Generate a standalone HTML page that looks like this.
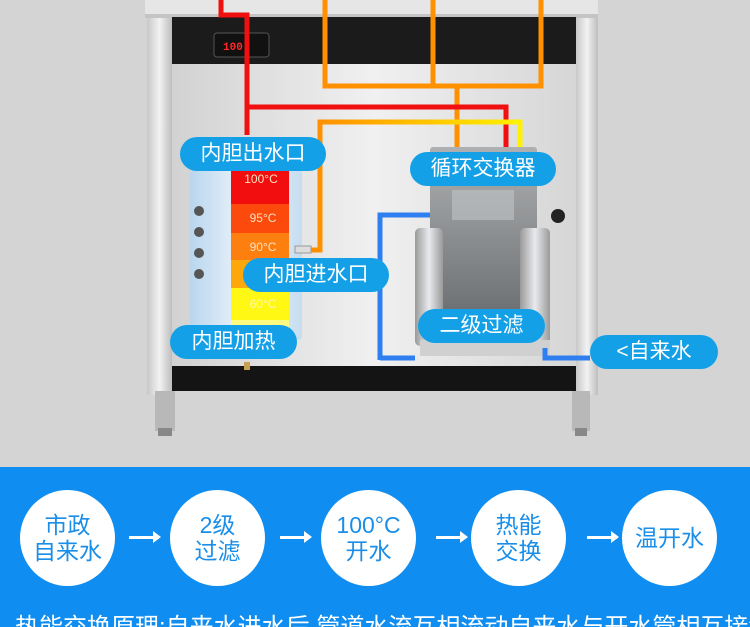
<!DOCTYPE html>
<html><head><meta charset="utf-8"><style>
html,body{margin:0;padding:0}
body{width:750px;height:627px;overflow:hidden;position:relative;background:#d4d4d4;font-family:"Liberation Sans","Noto Sans CJK SC",sans-serif}
svg{position:absolute;left:0;top:0}
.pill{position:absolute;background:#14a0e6;color:#fff;border-radius:18px;font-size:21px;text-align:center;line-height:34px;height:34px;white-space:nowrap}
.band{position:absolute;left:0;top:467px;width:750px;height:160px;background:#0f8df0;overflow:hidden}
.c{position:absolute;top:490px;width:95px;height:96px;border-radius:50%;background:#fff;color:#1a8ee8;font-size:23px;line-height:26px;display:flex;align-items:center;justify-content:center;text-align:center}
.ar{position:absolute;top:536px;width:30px;height:3px;background:#fff}
.ar:after{content:"";position:absolute;right:-2px;top:-5px;border-left:8px solid #fff;border-top:6px solid transparent;border-bottom:6px solid transparent}
.bt{position:absolute;left:15px;top:140px;color:#fff;font-size:24px;white-space:nowrap}
</style></head><body>
<svg width="750" height="467" viewBox="0 0 750 467">
<defs>
<linearGradient id="pan" x1="0" x2="1"><stop offset="0" stop-color="#d2d2d2"/><stop offset=".5" stop-color="#f0f0f0"/><stop offset="1" stop-color="#d6d6d6"/></linearGradient>
<linearGradient id="post" x1="0" x2="1"><stop offset="0" stop-color="#c8c8c8"/><stop offset=".5" stop-color="#f2f2f2"/><stop offset="1" stop-color="#bdbdbd"/></linearGradient>
<linearGradient id="tank" x1="0" x2="1"><stop offset="0" stop-color="#b9d6ee"/><stop offset=".5" stop-color="#eef5fb"/><stop offset="1" stop-color="#c6ddf0"/></linearGradient>
<linearGradient id="ex" x1="0" x2="0" y1="0" y2="1"><stop offset="0" stop-color="#aeb0b2"/><stop offset="1" stop-color="#6f7274"/></linearGradient>
<linearGradient id="oy" x1="0" x2="1"><stop offset="0" stop-color="#ff8c00"/><stop offset="1" stop-color="#fff200"/></linearGradient>
<linearGradient id="flt" x1="0" x2="1"><stop offset="0" stop-color="#9a9a9a"/><stop offset=".5" stop-color="#e8eaee"/><stop offset="1" stop-color="#9a9a9a"/></linearGradient>
</defs>
<rect x="0" y="0" width="750" height="467" fill="#d4d4d4"/>
<rect x="145" y="0" width="453" height="18" fill="#e6e6e6"/>
<rect x="145" y="14" width="453" height="4" fill="#c4c4c4"/>
<rect x="147" y="18" width="25" height="377" fill="url(#post)"/>
<rect x="576" y="18" width="22" height="377" fill="url(#post)"/>
<rect x="172" y="17" width="404" height="47" fill="#1b1b1b"/>
<rect x="172" y="64" width="404" height="302" fill="url(#pan)"/>
<rect x="172" y="366" width="404" height="25" fill="#141414"/>
<rect x="155" y="391" width="20" height="40" fill="#b8b8b8"/><rect x="158" y="428" width="14" height="8" fill="#888"/>
<rect x="572" y="391" width="18" height="40" fill="#b8b8b8"/><rect x="575" y="428" width="12" height="8" fill="#888"/>
<rect x="214" y="33" width="55" height="24" rx="3" fill="#111" stroke="#555"/>
<text x="223" y="50" font-size="11" fill="#ff2a2a" font-family="Liberation Mono" font-weight="bold">100</text>
<rect x="190" y="170" width="112" height="170" rx="4" fill="url(#tank)"/>
<rect x="231" y="170" width="58" height="34" fill="#f20e0e"/>
<rect x="231" y="204" width="58" height="29" fill="#fb4a0c"/>
<rect x="231" y="233" width="58" height="27" fill="#fd7f10"/>
<rect x="231" y="260" width="58" height="28" fill="#fca80c"/>
<rect x="231" y="288" width="58" height="32" fill="#fff714"/>
<rect x="231" y="320" width="58" height="10" fill="#fffa80"/>
<g font-size="12" fill="#ffe0c0" text-anchor="middle"><text x="261" y="183">100°C</text><text x="263" y="222">95°C</text><text x="263" y="251">90°C</text><text x="263" y="308" fill="#fff8b0">60°C</text></g>
<g fill="#555"><circle cx="199" cy="211" r="5"/><circle cx="199" cy="232" r="5"/><circle cx="199" cy="253" r="5"/><circle cx="199" cy="274" r="5"/></g>
<rect x="295" y="246" width="16" height="7" fill="#ddd" stroke="#999"/>
<rect x="244" y="362" width="6" height="8" fill="#c8a050"/>
<rect x="430" y="147" width="107" height="163" rx="3" fill="url(#ex)"/>
<rect x="452" y="190" width="62" height="30" fill="#c2c4c6" opacity=".6"/>
<rect x="415" y="228" width="28" height="118" rx="5" fill="url(#flt)"/>
<rect x="520" y="228" width="30" height="118" rx="5" fill="url(#flt)"/>
<rect x="420" y="340" width="130" height="16" fill="#d0d0d0"/>
<circle cx="558" cy="216" r="7" fill="#222"/>
<g fill="none" stroke-width="5" stroke-linejoin="miter">
<polyline points="380,360 380,215 430,215" stroke="#2f7ff0"/>
<polyline points="380,358 415,358" stroke="#2f7ff0"/>
<polyline points="545,348 545,358 590,358" stroke="#2f7ff0"/>
<polyline points="325,0 325,86 541,86 541,0" stroke="#ff9000"/>
<polyline points="433,0 433,86" stroke="#ff9000"/>
<polyline points="457,86 457,147" stroke="#ff9000"/>
<polyline points="221,0 221,15 247,15 247,135" stroke="#f01010"/>
<polyline points="247,107 506,107 506,147" stroke="#f01010"/>
<polyline points="311,250 320,250 320,122 520,122 520,147" stroke="url(#oy)"/>
</g>
</svg>
<div class="pill" style="left:180px;top:137px;width:146px">内胆出水口</div>
<div class="pill" style="left:410px;top:152px;width:146px">循环交换器</div>
<div class="pill" style="left:243px;top:258px;width:146px">内胆进水口</div>
<div class="pill" style="left:418px;top:309px;width:127px">二级过滤</div>
<div class="pill" style="left:170px;top:325px;width:127px">内胆加热</div>
<div class="pill" style="left:590px;top:335px;width:128px">&lt;自来水</div>
<div class="band"><div class="bt">热能交换原理:自来水进水后,管道水流互相流动自来水与开水管相互接触</div></div>
<div class="c" style="left:20px">市政<br>自来水</div>
<div class="c" style="left:170px">2级<br>过滤</div>
<div class="c" style="left:321px">100°C<br>开水</div>
<div class="c" style="left:471px">热能<br>交换</div>
<div class="c" style="left:622px">温开水</div>
<div class="ar" style="left:129px"></div>
<div class="ar" style="left:280px"></div>
<div class="ar" style="left:436px"></div>
<div class="ar" style="left:587px"></div>
</body></html>
